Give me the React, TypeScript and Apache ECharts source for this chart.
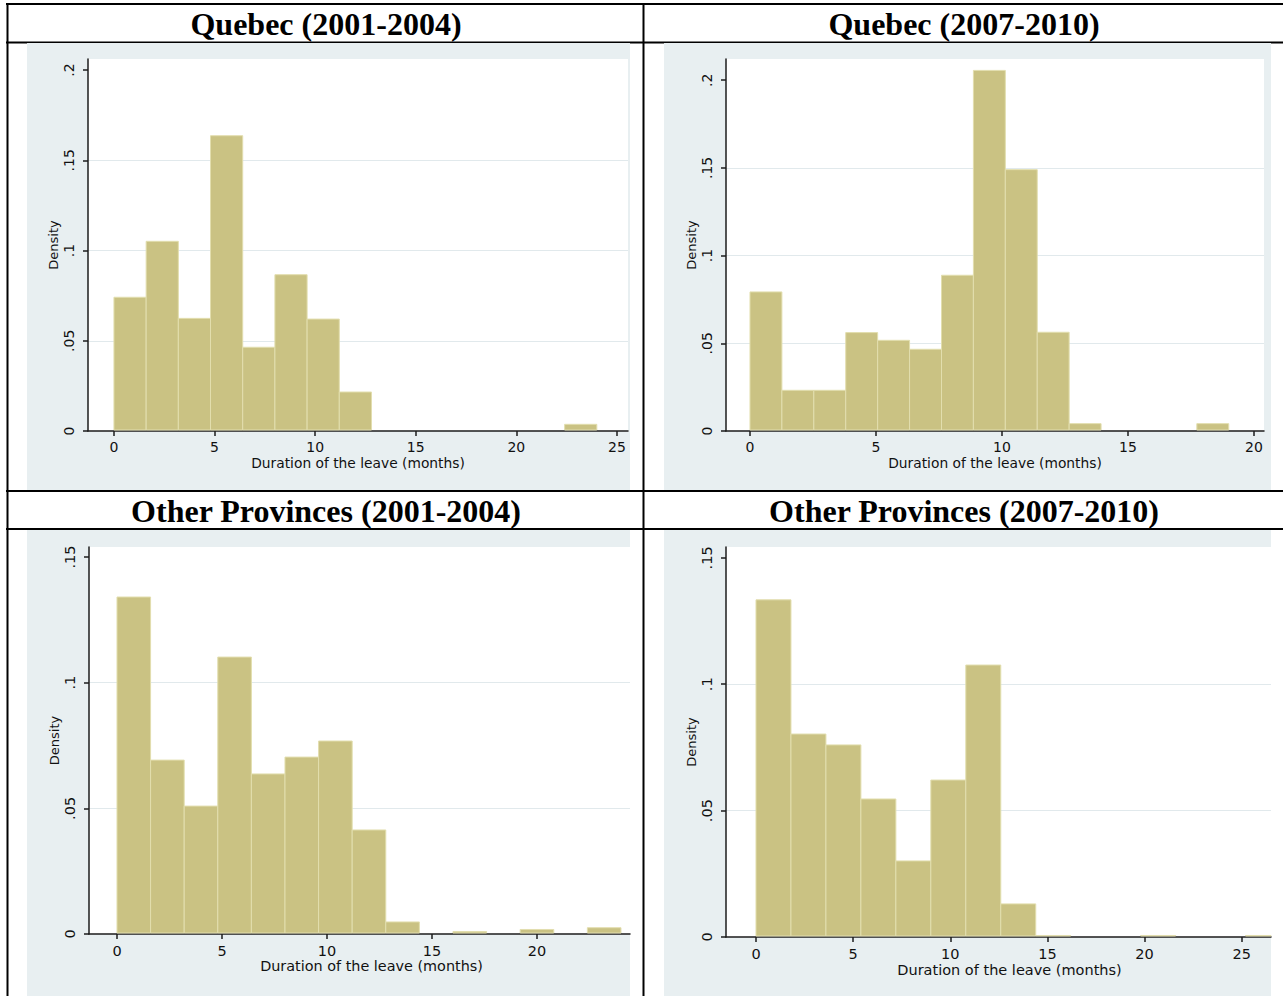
import React, { useEffect, useRef } from "react";
import * as echarts from "echarts";

// ---------------- data ----------------
const panelTitles = [
  "Quebec (2001-2004)",
  "Quebec (2007-2010)",
  "Other Provinces (2001-2004)",
  "Other Provinces (2007-2010)",
];
const xAxisTitle = "Duration of the leave (months)";
const yAxisTitle = "Density";

// Quebec 2001-2004: 15 bins of width 1.6 starting at 0
const qc0104BinWidth = 1.6;
const qc0104Density = [0.0741, 0.1051, 0.0624, 0.1636, 0.0464, 0.0866, 0.062, 0.0216, 0, 0, 0, 0, 0, 0, 0.0037];
const qc0104XTicks = [0, 5, 10, 15, 20, 25];
const qc0104YTicks = [0, 0.05, 0.1, 0.15, 0.2];

// Quebec 2007-2010: 15 bins of width 1.2667 starting at 0
const qc0710BinWidth = 1.2667;
const qc0710Density = [0.0793, 0.0232, 0.0232, 0.0561, 0.0517, 0.0466, 0.0888, 0.2056, 0.149, 0.0563, 0.0042, 0, 0, 0, 0.0042];
const qc0710XTicks = [0, 5, 10, 15, 20];
const qc0710YTicks = [0, 0.05, 0.1, 0.15, 0.2];

// Other provinces 2001-2004: 15 bins of width 1.6 starting at 0
const op0104BinWidth = 1.6;
const op0104Density = [0.1341, 0.0692, 0.0509, 0.1102, 0.0637, 0.0704, 0.0768, 0.0414, 0.0048, 0, 0.001, 0, 0.0018, 0, 0.0025];
const op0104XTicks = [0, 5, 10, 15, 20];
const op0104YTicks = [0, 0.05, 0.1, 0.15];

// Other provinces 2007-2010: 15 bins of width 1.8 starting at 0
const op0710BinWidth = 1.8;
const op0710Density = [0.1334, 0.0803, 0.076, 0.0546, 0.0301, 0.0621, 0.1076, 0.0131, 0.0006, 0, 0, 0.0006, 0, 0, 0.0006];
const op0710XTicks = [0, 5, 10, 15, 20, 25];
const op0710YTicks = [0, 0.05, 0.1, 0.15];

// ---------------- styles / layout ----------------
const BAR_FILL = "#CAC283";
const BAR_EDGE = "#E2DEAE";
const REGION_BG = "#E8EFF1";
const GRID_LINE = "#E1E9EC";
const AXIS_COLOR = "#1c1c1c";
const SANS = "DejaVu Sans";
const SERIF = "Liberation Serif";

const panels = [
  {
    title: panelTitles[0], titleX: 326, titleY: 24,
    bg: [27, 43, 603, 447], grid: [88, 59, 540, 372],
    xMin: -1.29, xMax: 25.55, yMax: 0.2061,
    xTicks: qc0104XTicks, yTicks: qc0104YTicks,
    binWidth: qc0104BinWidth, density: qc0104Density,
    nameShift: 0, tickFont: 14, nameFont: 13.8,
  },
  {
    title: panelTitles[1], titleX: 964, titleY: 24,
    bg: [664, 43, 607, 447], grid: [726, 59, 538, 372],
    xMin: -0.952, xMax: 20.4, yMax: 0.2121,
    xTicks: qc0710XTicks, yTicks: qc0710YTicks,
    binWidth: qc0710BinWidth, density: qc0710Density,
    nameShift: 0, tickFont: 14, nameFont: 13.8,
  },
  {
    title: panelTitles[2], titleX: 326, titleY: 511,
    bg: [27, 530, 603, 466], grid: [89, 547, 541, 387],
    xMin: -1.333, xMax: 24.43, yMax: 0.154,
    xTicks: op0104XTicks, yTicks: op0104YTicks,
    binWidth: op0104BinWidth, density: op0104Density,
    nameShift: 12, tickFont: 14.5, nameFont: 14.4,
  },
  {
    title: panelTitles[3], titleX: 964, titleY: 511,
    bg: [664, 530, 607, 466], grid: [726, 547, 545, 390],
    xMin: -1.544, xMax: 26.51, yMax: 0.1543,
    xTicks: op0710XTicks, yTicks: op0710YTicks,
    binWidth: op0710BinWidth, density: op0710Density,
    nameShift: 11, tickFont: 14.5, nameFont: 14.5,
  },
];

function fmtDensity(v: number): string {
  if (Math.abs(v) < 1e-9) return "0";
  const r = Math.round(v * 1000) / 1000;
  return String(r).replace(/^0\./, ".");
}

function renderHistBar(params: any, api: any) {
  const h = api.value(2);
  if (!(h > 0)) return null;
  const p0 = api.coord([api.value(0), h]);
  const p1 = api.coord([api.value(1), 0]);
  const cs = params.coordSys;
  const rect = echarts.graphic.clipRectByRect(
    { x: p0[0], y: p0[1], width: p1[0] - p0[0], height: p1[1] - p0[1] },
    { x: cs.x, y: cs.y, width: cs.width, height: cs.height - 1 }
  );
  if (!rect) return null;
  return {
    type: "rect",
    shape: rect,
    style: { fill: BAR_FILL, stroke: BAR_EDGE, lineWidth: 1 },
  };
}

function buildOption(): any {
  const grids = panels.map((p) => ({
    left: p.grid[0], top: p.grid[1], width: p.grid[2], height: p.grid[3],
    show: true, backgroundColor: "#ffffff", borderWidth: 0,
    containLabel: false, outerBoundsMode: "none",
  }));

  const xAxes = panels.map((p, i) => ({
    type: "value", gridIndex: i, min: p.xMin, max: p.xMax,
    name: xAxisTitle, nameLocation: "middle", nameGap: 25, nameMoveOverlap: false,
    nameTextStyle: {
      fontFamily: SANS, fontSize: p.nameFont, color: "#111",
      padding: [0, 0, 0, p.nameShift * 2],
    },
    axisLine: { show: true, onZero: false, lineStyle: { color: AXIS_COLOR, width: 1.5 } },
    axisTick: { show: true, inside: false, length: 5, customValues: p.xTicks, lineStyle: { color: AXIS_COLOR, width: 1.5 } },
    axisLabel: {
      show: true, customValues: p.xTicks, margin: 9, hideOverlap: false,
      fontFamily: SANS, fontSize: p.tickFont, color: "#111",
      formatter: (v: number) => String(v),
    },
    splitLine: { show: false },
  }));

  const yAxes = panels.map((p, i) => ({
    type: "value", gridIndex: i, min: 0, max: p.yMax, interval: 0.05,
    name: yAxisTitle, nameLocation: "middle", nameGap: 28, nameRotate: 90, nameMoveOverlap: false,
    nameTextStyle: { fontFamily: SANS, fontSize: 13, color: "#111" },
    axisLine: { show: true, onZero: false, lineStyle: { color: AXIS_COLOR, width: 1.5 } },
    axisTick: { show: true, inside: false, length: 5, customValues: p.yTicks, lineStyle: { color: AXIS_COLOR, width: 1.5 } },
    axisLabel: {
      show: true, customValues: p.yTicks, rotate: 90, margin: 12, hideOverlap: false,
      fontFamily: SANS, fontSize: p.tickFont, color: "#111",
      formatter: fmtDensity,
    },
    splitLine: {
      show: true, showMinLine: false, showMaxLine: false,
      lineStyle: { color: GRID_LINE, width: 1.2 },
    },
  }));

  const series = panels.map((p, i) => ({
    type: "custom", xAxisIndex: i, yAxisIndex: i, z: 2,
    data: p.density.map((d, k) => [k * p.binWidth, (k + 1) * p.binWidth, d]),
    encode: { x: [0, 1], y: 2 },
    renderItem: renderHistBar,
    silent: true,
  }));

  const tableLines = [
    [6, 4, 1283, 4],
    [6, 42.5, 1283, 42.5],
    [6, 491, 1283, 491],
    [6, 529, 1283, 529],
    [7.5, 3, 7.5, 996],
    [643.5, 3, 643.5, 996],
  ].map((l) => ({
    type: "line", z: -20, silent: true,
    shape: { x1: l[0], y1: l[1], x2: l[2], y2: l[3] },
    style: { stroke: "#000", lineWidth: 2 },
  }));

  const bgRects = panels.map((p) => ({
    type: "rect", z: -10, silent: true,
    shape: { x: p.bg[0], y: p.bg[1], width: p.bg[2], height: p.bg[3] },
    style: { fill: REGION_BG },
  }));

  const titles = panels.map((p) => ({
    type: "text", z: 10, silent: true,
    x: p.titleX, y: p.titleY,
    style: {
      text: p.title, fill: "#000",
      fontFamily: SERIF, fontWeight: "bold", fontSize: 32,
      align: "center", verticalAlign: "middle",
    },
  }));

  return {
    animation: false,
    backgroundColor: "#ffffff",
    textStyle: { fontFamily: SANS },
    graphic: [...tableLines, ...bgRects, ...titles],
    grid: grids,
    xAxis: xAxes,
    yAxis: yAxes,
    series,
  };
}

export default function App() {
  const ref = useRef<HTMLDivElement>(null);
  useEffect(() => {
    document.body.style.margin = "0";
    document.body.style.overflow = "hidden";
    if (!ref.current) return;
    const chart = echarts.init(ref.current, undefined, { renderer: "svg" });
    chart.setOption(buildOption());
    return () => {
      chart.dispose();
    };
  }, []);
  return (
    <div
      ref={ref}
      style={{ position: "absolute", left: 0, top: 0, width: 1283, height: 996 }}
    />
  );
}
